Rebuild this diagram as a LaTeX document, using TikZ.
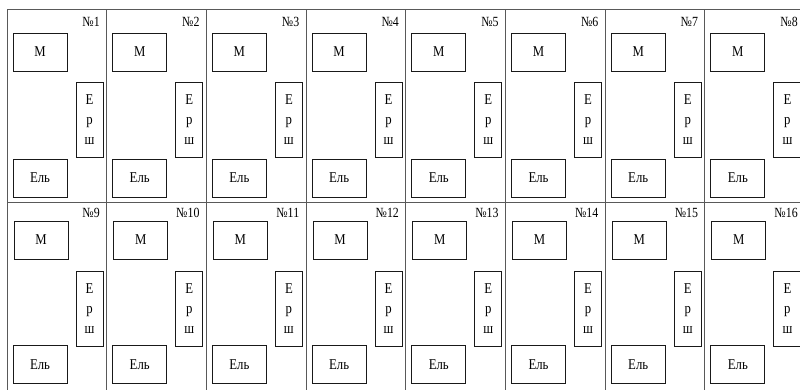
\documentclass[tikz,border=0pt]{standalone}
\usepackage{fontspec}
\setmainfont[FakeStretch=0.85]{Liberation Serif}
\begin{document}
\begin{tikzpicture}[x=1pt,y=-1pt,
  gridline/.style={draw=black!65, line width=1pt},
  mbox/.style={draw=black!90, line width=0.9pt, minimum width=54pt, minimum height=38pt, inner sep=0pt, font=\fontsize{15}{17}\selectfont},
  ebox/.style={draw=black!90, line width=0.9pt, minimum width=54pt, minimum height=38pt, inner sep=0pt, font=\fontsize{15}{17}\selectfont},
  tallbox/.style={draw=black!90, line width=0.9pt, minimum width=27pt, minimum height=75pt, inner sep=0pt, align=center, font=\fontsize{15}{20}\selectfont},
  numlab/.style={anchor=north east, inner sep=0pt, font=\fontsize{14}{16}\selectfont}]
\useasboundingbox (0,0) rectangle (800,390);
\clip (0,0) rectangle (800,390);
% grid
\draw[gridline] (7,10) -- (810,10);
\draw[gridline] (7,203) -- (810,203);
\foreach \c in {0,...,8} {
  \pgfmathsetmacro\gx{7+99.7*\c}
  \draw[gridline] (\gx,10) -- (\gx,392);
}
% cells
\foreach \c in {0,...,7} {
  \pgfmathsetmacro\xo{7+99.7*\c}
  \pgfmathtruncatemacro\na{\c+1}
  \pgfmathtruncatemacro\nb{\c+9}
  % top row
  \node[numlab] (n\na) at (\xo+93,17) {№\na};
  \node[mbox] (m\na) at (\xo+33,52) {М};
  \node[tallbox] (r\na) at (\xo+82.5,120) {Е\\р\\ш};
  \node[ebox] (e\na) at (\xo+33,178) {Ель};
  % bottom row
  \node[numlab] (n\nb) at (\xo+93,208) {№\nb};
  \node[mbox] (m\nb) at (\xo+34,240) {М};
  \node[tallbox] (r\nb) at (\xo+82.5,308.5) {Е\\р\\ш};
  \node[ebox] (e\nb) at (\xo+33,364.5) {Ель};
}
\end{tikzpicture}
\end{document}
